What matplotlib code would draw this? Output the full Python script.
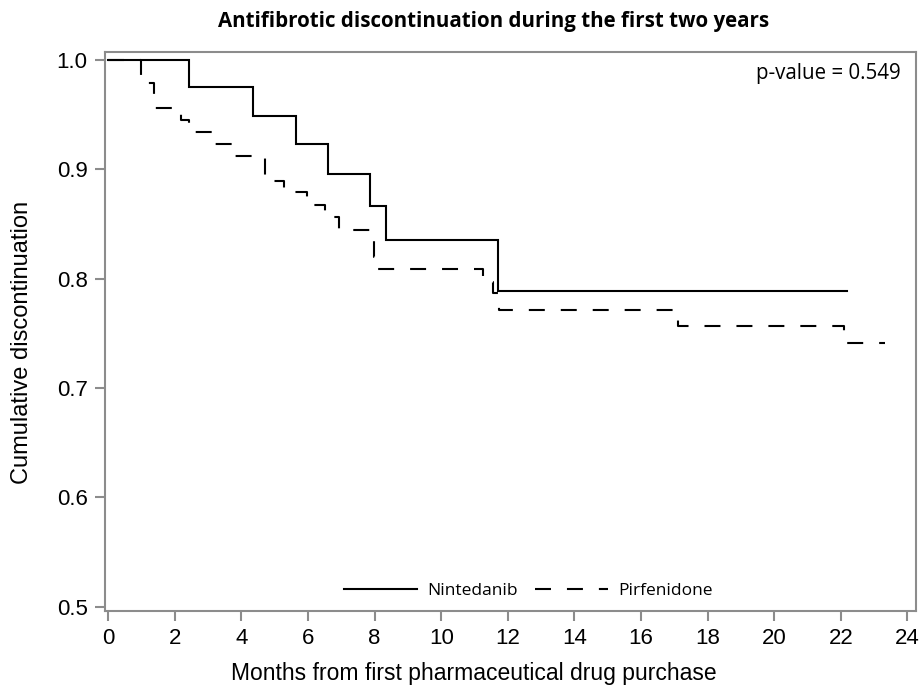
import matplotlib
matplotlib.use("Agg")
import matplotlib.pyplot as plt

# Data
nin_months = [0, 2.41, 4.35, 5.65, 6.60, 7.86, 8.34, 11.71, 22.20]
nin_values = [1.0, 0.975, 0.949, 0.923, 0.8955, 0.8665, 0.8357, 0.789, 0.789]

pir_months = [0, 0.99, 1.36, 2.17, 2.41, 3.20, 3.80, 4.70, 5.27, 5.98, 6.50, 6.93,
              7.98, 8.08, 11.24, 11.56, 11.73, 17.11, 22.11, 23.32]
pir_values = [1.0, 0.979, 0.956, 0.945, 0.934, 0.923, 0.912, 0.889, 0.879, 0.867,
              0.856, 0.844, 0.820, 0.8084, 0.797, 0.7865, 0.7712, 0.757, 0.741, 0.741]

x_ticks = list(range(0, 25, 2))
y_ticks = [0.5, 0.6, 0.7, 0.8, 0.9, 1.0]

title = "Antifibrotic discontinuation during the first two years"
xlabel = "Months from first pharmaceutical drug purchase"
ylabel = "Cumulative discontinuation"
pvalue_text = "p-value = 0.549"

plt.rcParams['lines.scale_dashes'] = False
fig = plt.figure(figsize=(9.21, 6.87), dpi=100)
ax = fig.add_axes([105/921, 1 - 610.5/687, (916-105)/921, (610.5-52.3)/687])

ax.plot(nin_months, nin_values, drawstyle='steps-post', color='black', lw=1.5,
        label='Nintedanib', solid_joinstyle='miter')
ax.plot(pir_months, pir_values, drawstyle='steps-post', color='black', lw=1.5,
        linestyle=(0, (11.5, 11.5)), label='Pirfenidone', dash_capstyle='butt')

ax.set_xlim(-0.1, 24.26)
ax.set_ylim(0.4967, 1.0068)
ax.set_xticks(x_ticks)
ax.set_yticks(y_ticks)
ax.set_yticklabels([f"{v:.1f}" for v in y_ticks])

spine_col = '#8c8c8c'
for s in ax.spines.values():
    s.set_color(spine_col)
    s.set_linewidth(1.5)
ax.tick_params(axis='both', colors=spine_col, labelcolor='black', length=7.5,
               width=1.5, labelsize=16, pad=5)
for lbl in ax.get_xticklabels() + ax.get_yticklabels():
    lbl.set_family('Liberation Sans')

ax.set_xlabel(xlabel, fontsize=16.5, family='Liberation Sans')
ax.set_ylabel(ylabel, fontsize=17, family='Liberation Sans')
ax.xaxis.set_label_coords((474 - 105) / 811, (610.5 - 662) / 558.2)
ax.yaxis.set_label_coords((33 - 105) / 811, (610.5 - 342) / 558.2)

fig.text(494/921, 1 - 22/687, title, ha='center', va='center', fontsize=14.8,
         fontweight='bold', family='Open Sans')
ax.text(0.9816, 0.962, pvalue_text, transform=ax.transAxes, ha='right', va='center',
        fontsize=14.8, family='Open Sans')

leg = ax.legend(loc='lower center', ncol=2, frameon=False, bbox_to_anchor=(0.522, -0.008),
                handlelength=4.2, columnspacing=1.0, handletextpad=0.6,
                prop={'family': 'Open Sans', 'size': 12.5})

fig.savefig('out.png', dpi=100)
